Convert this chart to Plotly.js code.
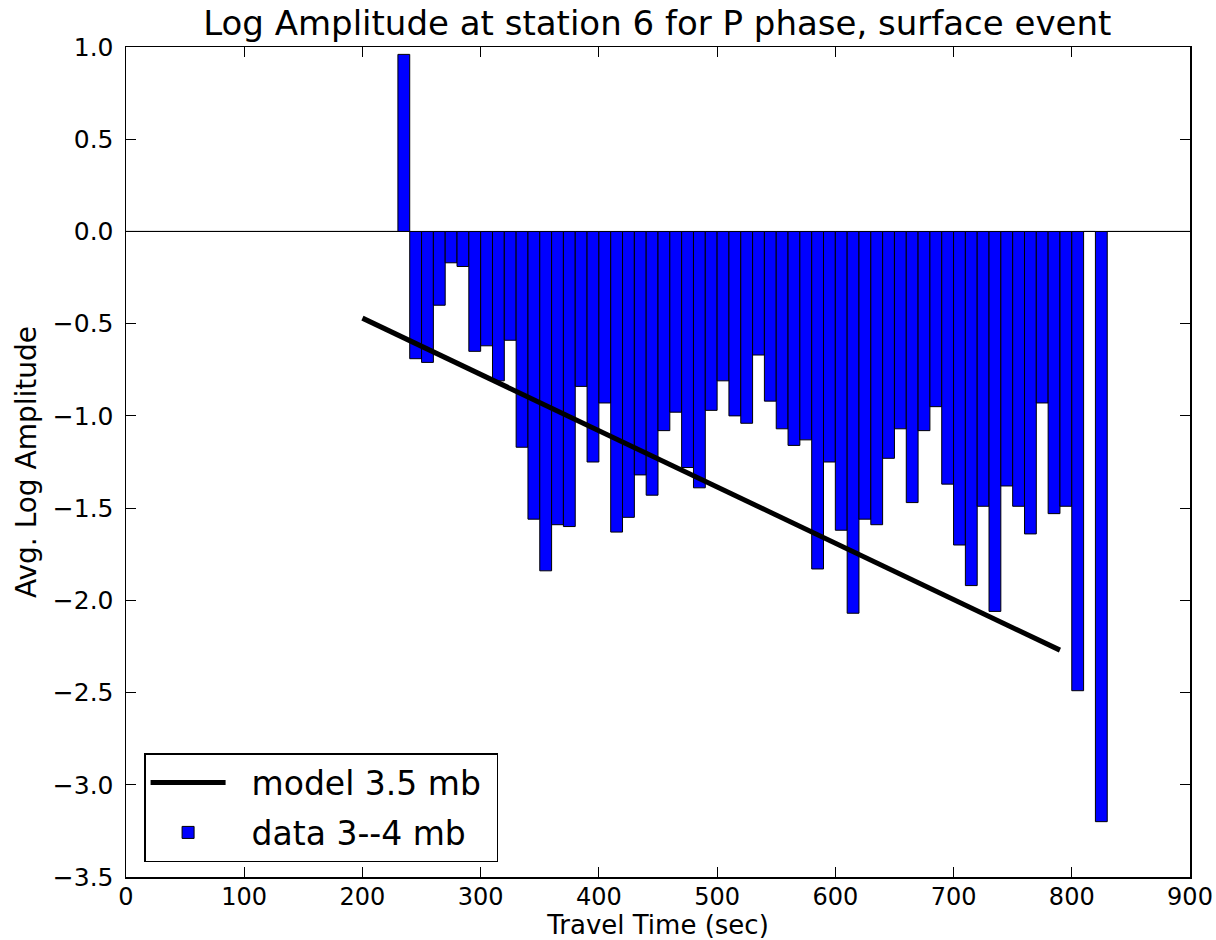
<!DOCTYPE html>
<html>
<head>
<meta charset="utf-8">
<script src="https://cdn.plot.ly/plotly-3.0.1.min.js"></script>
<style>html,body{margin:0;padding:0;background:#fff;}#chart{width:1216px;height:940px;}</style>
</head>
<body>
<div id="chart"></div>
<script>
// Bin left edges (travel time, sec), bin width 10
const binStart = [];
for (let t = 0; t < 900; t += 10) binStart.push(t);

// Average log amplitude per bin (0 = empty bin)
const avgLogAmp = [
  0, 0, 0, 0, 0, 0, 0, 0, 0, 0,            // 0-90
  0, 0, 0, 0, 0, 0, 0, 0, 0, 0,            // 100-190
  0, 0, 0, 0.96, -0.69, -0.71, -0.40, -0.17, -0.19, -0.65,   // 200-290
  -0.62, -0.81, -0.59, -1.17, -1.56, -1.84, -1.59, -1.60, -0.84, -1.25, // 300-390
  -0.93, -1.63, -1.55, -1.32, -1.43, -1.08, -0.98, -1.28, -1.39, -0.97, // 400-490
  -0.81, -1.00, -1.04, -0.67, -0.92, -1.07, -1.16, -1.13, -1.83, -1.25, // 500-590
  -1.62, -2.07, -1.56, -1.59, -1.23, -1.07, -1.47, -1.08, -0.95, -1.37, // 600-690
  -1.70, -1.92, -1.49, -2.06, -1.38, -1.49, -1.64, -0.93, -1.53, -1.49, // 700-790
  -2.49, 0, -3.20, 0, 0, 0, 0, 0, 0, 0     // 800-890
];

// Model line (3.5 mb)
const modelTime = [200, 790];
const modelLogAmp = [-0.47, -2.27];

const xTicks = [0, 100, 200, 300, 400, 500, 600, 700, 800, 900];
const yTicks = [-3.5, -3.0, -2.5, -2.0, -1.5, -1.0, -0.5, 0.0, 0.5, 1.0];

const FONT = 'DejaVu Sans, Bitstream Vera Sans, sans-serif';
const NB = '\u00a0\u00a0';

const traces = [
  {
    type: 'scatter', mode: 'lines', name: NB + 'model 3.5 mb' + '\u00a0',
    legendgroup: 'm',
    x: modelTime, y: modelLogAmp,
    line: {color: '#000000', width: 5}
  },
  {
    type: 'bar', name: NB + 'data 3--4 mb',
    legendgroup: 'd',
    x: binStart, y: avgLogAmp,
    width: 10, offset: 0,
    marker: {color: '#0000ff', line: {color: '#000000', width: 1}}
  }
];

const layout = {
  width: 1216, height: 940,
  paper_bgcolor: '#ffffff', plot_bgcolor: '#ffffff',
  margin: {l: 126, r: 26, t: 47, b: 63, pad: 0},
  font: {family: FONT, color: '#000000', size: 25},
  title: {text: 'Log Amplitude at station 6 for P phase, surface event',
          font: {family: FONT, size: 34, color: '#000000'},
          x: 0.5405, xanchor: 'center', y: 0.975, yanchor: 'middle'},
  showlegend: true,
  legend: {x: 0.017, y: 0.018, xanchor: 'left', yanchor: 'bottom',
           bgcolor: '#ffffff', bordercolor: '#000000', borderwidth: 1.5,
           font: {family: FONT, size: 33, color: '#000000'},
           itemwidth: 75, traceorder: 'grouped', tracegroupgap: 4},
  xaxis: {
    range: [0, 900], tickmode: 'array', tickvals: xTicks,
    ticks: 'inside', ticklen: 10, tickwidth: 1, tickcolor: '#000',
    showline: true, linecolor: '#000', linewidth: 1.5, mirror: 'ticks',
    showgrid: false, zeroline: false,
    tickfont: {family: FONT, size: 24},
    ticklabelstandoff: -2,
    title: {text: 'Travel Time (sec)', font: {family: FONT, size: 26}, standoff: 9}
  },
  yaxis: {
    range: [-3.5, 1.0], tickmode: 'array', tickvals: yTicks,
    tickformat: '.1f',
    ticks: 'inside', ticklen: 10, tickwidth: 1, tickcolor: '#000',
    showline: true, linecolor: '#000', linewidth: 1.5, mirror: 'ticks',
    showgrid: false, zeroline: true, zerolinecolor: '#000', zerolinewidth: 1.5,
    tickfont: {family: FONT, size: 25},
    ticklabelstandoff: 6,
    title: {text: 'Avg. Log Amplitude', font: {family: FONT, size: 28}, standoff: 8}
  },
  bargap: 0
};

Plotly.newPlot('chart', traces, layout, {staticPlot: true, displayModeBar: false});
</script>
</body>
</html>
